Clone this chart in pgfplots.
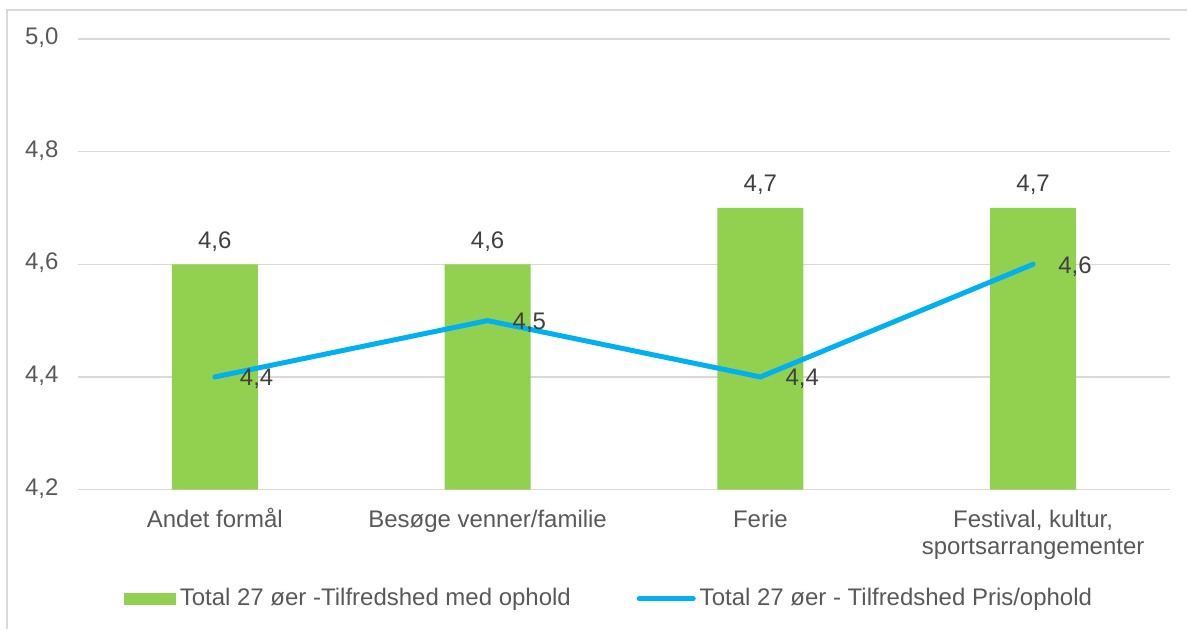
\documentclass[border=0pt]{standalone}
\usepackage{pgfplots}
\pgfplotsset{compat=1.18}
\usepackage{fontspec}
\setmainfont{Liberation Sans}
\definecolor{bargreen}{HTML}{92D050}
\definecolor{lineblue}{HTML}{00B0F0}
\definecolor{gridgray}{HTML}{D9D9D9}
\definecolor{ticktext}{HTML}{595959}
\definecolor{labeltext}{HTML}{404040}
\begin{document}
\begin{tikzpicture}
\begin{axis}[
  scale only axis,
  width=546pt, height=225.5pt,
  xmin=-0.5, xmax=3.5,
  ymin=4.2, ymax=5.0,
  ytick={4.2,4.4,4.6,4.8,5.0},
  xtick={0,1,2,3},
  xticklabels={Andet formål, Besøge venner/familie, Ferie, {Festival, kultur,\\sportsarrangementer}},
  typeset ticklabels with strut,
  xticklabel style={align=center, text=ticktext, font=\fontsize{12}{13.5}\selectfont, yshift=-6pt},
  yticklabel style={text=ticktext, font=\fontsize{12}{14}\selectfont, xshift=-6.5pt, /pgf/number format/.cd, use comma, fixed, fixed zerofill, precision=1},
  /pgf/number format/assume math mode=true,
  major tick length=0pt,
  axis line style={draw=none},
  ymajorgrids,
  grid style={gridgray, line width=0.75pt},
  clip=false,
  legend columns=2,
  legend style={at={(0.5,-0.24)}, anchor=center, xshift=-7pt, yshift=-0.5pt, draw=none, fill=none,
    font=\fontsize{12}{14}\selectfont, text=ticktext,
    /tikz/every even column/.append style={column sep=31pt}},
]
\addplot[ybar, bar width=43pt, fill=bargreen, draw=none,
  nodes near coords,
  every node near coord/.append style={text=labeltext, font=\fontsize{12}{14}\selectfont, anchor=south, yshift=3pt,
    /pgf/number format/.cd, use comma, fixed, fixed zerofill, precision=1},
  legend image code/.code={\fill[bargreen] (0pt,-3pt) rectangle (26pt,3pt);}
] coordinates {(0,4.6) (1,4.6) (2,4.7) (3,4.7)};
\addlegendentry{Total 27 øer -Tilfredshed med ophold}
\addplot[sharp plot, lineblue, line width=2.5pt, line cap=round, mark=none,
  nodes near coords,
  every node near coord/.append style={text=labeltext, font=\fontsize{12}{14}\selectfont, anchor=west, xshift=8pt, yshift=-1pt,
    /pgf/number format/.cd, use comma, fixed, fixed zerofill, precision=1},
  legend image code/.code={\draw[lineblue, line width=2.5pt] (0pt,0pt) -- (27pt,0pt);}
] coordinates {(0,4.4) (1,4.5) (2,4.4) (3,4.6)};
\addlegendentry{Total 27 øer - Tilfredshed Pris/ophold}
\end{axis}
\draw[gridgray, line width=1pt] (-35.75pt,-70pt) -- (-35.75pt,240pt) -- (554.75pt,240pt);
\useasboundingbox (-39.25pt,-70pt) rectangle (554.75pt,245pt);
\end{tikzpicture}
\end{document}
